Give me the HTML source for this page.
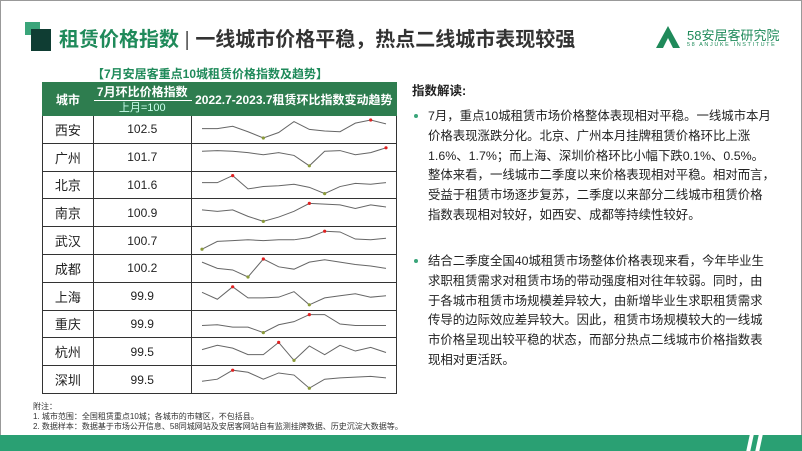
<!DOCTYPE html>
<html><head><meta charset="utf-8">
<style>
*{margin:0;padding:0;box-sizing:border-box}
body{width:802px;height:451px;overflow:hidden;background:#fff;font-family:"Liberation Sans","Noto Sans CJK SC",sans-serif;position:relative}
.abs{position:absolute}
table{border-collapse:collapse;position:absolute;left:42px;top:82px;width:355px}
td{border:1px solid #333;text-align:center;font-size:12px;color:#222;height:27.8px;padding:0}
.hd td{background:#2e7d4f;color:#fff;font-weight:bold;border-color:#2e7d4f;}
.txt{font-size:12.4px;line-height:19.8px;color:#222;left:428px;width:340px;white-space:nowrap}
.dot{position:absolute;left:-14px;top:7px;width:4px;height:4px;border-radius:50%;background:#3aa57a}
</style></head><body>
<div class="abs" style="left:0;top:0;width:802px;height:451px;border:1px solid #999"></div>
<div class="abs" style="left:25px;top:22px;width:15px;height:13px;background:#3aa57a"></div>
<div class="abs" style="left:31px;top:29px;width:20px;height:22px;background:#0f3d33"></div>
<div class="abs" style="left:59px;top:27px;font-size:20px;font-weight:bold;white-space:nowrap;line-height:26px"><span style="color:#1f8a5a">租赁价格指数</span><span style="color:#555;font-weight:normal"> | </span><span style="color:#333">一线城市价格平稳，热点二线城市表现较强</span></div>
<div class="abs" style="left:656px;top:24px;width:130px;height:26px">
<svg width="24" height="22" style="position:absolute;left:0;top:2px"><polygon points="12,0 24,22 17,22 12,12 7,22 0,22" fill="#1f8a5a"/></svg>
<div style="position:absolute;left:31px;top:1px;font-size:13px;color:#1f8a5a;white-space:nowrap">58安居客研究院</div>
<div style="position:absolute;left:31px;top:18px;font-size:5.5px;color:#1f8a5a;letter-spacing:1.6px;white-space:nowrap">58 ANJUKE INSTITUTE</div>
</div>
<div class="abs" style="left:92px;top:65px;font-size:12px;font-weight:bold;color:#1f8a5a;white-space:nowrap">【7月安居客重点10城租赁价格指数及趋势】</div>
<table>
<colgroup><col style="width:51px"><col style="width:98px"><col style="width:206px"></colgroup>
<tr class="hd"><td rowspan="2" style="height:33px">城市</td><td style="height:18px;border-bottom:1px solid #fff">7月环比价格指数</td><td rowspan="2">2022.7-2023.7租赁环比指数变动趋势</td></tr>
<tr class="hd"><td style="height:15px;font-weight:normal;color:#cfe;font-size:11px;line-height:14px">上月=100</td></tr>
<tbody id="rows"></tbody>
</table>
<svg id="spark" class="abs" style="left:0;top:0" width="802" height="451"></svg>
<div class="abs" style="left:412px;top:80px;font-size:12.5px;font-weight:bold;color:#222">指数解读:</div>
<div class="abs txt" style="top:107px"><span class="dot"></span>7月，重点10城租赁市场价格整体表现相对平稳。一线城市本月<br>价格表现涨跌分化。北京、广州本月挂牌租赁价格环比上涨<br>1.6%、1.7%；而上海、深圳价格环比小幅下跌0.1%、0.5%。<br>整体来看，一线城市二季度以来价格表现相对平稳。相对而言，<br>受益于租赁市场逐步复苏，二季度以来部分二线城市租赁价格<br>指数表现相对较好，如西安、成都等持续性较好。</div>
<div class="abs txt" style="top:252px"><span class="dot"></span>结合二季度全国40城租赁市场整体价格表现来看，今年毕业生<br>求职租赁需求对租赁市场的带动强度相对往年较弱。同时，由<br>于各城市租赁市场规模差异较大，由新增毕业生求职租赁需求<br>传导的边际效应差异较大。因此，租赁市场规模较大的一线城<br>市价格呈现出较平稳的状态，而部分热点二线城市价格指数表<br>现相对更活跃。</div>
<div class="abs" style="left:33px;top:402px;font-size:8px;line-height:10px;color:#333;white-space:nowrap">附注：<br>1. 城市范围：全国租赁重点10城；各城市的市辖区，不包括县。<br>2. 数据样本：数据基于市场公开信息、58同城网站及安居客网站自有监测挂牌数据、历史沉淀大数据等。</div>
<div class="abs" style="left:0;top:435px;width:802px;height:16px;background:#2aa073"></div>
<div class="abs" style="left:748px;top:435px;width:4px;height:16px;background:#fff;transform:skewX(-12deg)"></div>
<div class="abs" style="left:757px;top:435px;width:4px;height:16px;background:#fff;transform:skewX(-12deg)"></div>
<script>
const cities=["西安","广州","北京","南京","武汉","成都","上海","重庆","杭州","深圳"];
const julyIndex=["102.5","101.7","101.6","100.9","100.7","100.2","99.9","99.9","99.5","99.5"];
const s0=[100,100,100.3,99.6,98.8,99.5,100.9,99.9,99.7,99.6,100.7,101.1,100.6];
const s1=[100,100.1,100,99.8,99.5,99.8,99.4,97.9,100,100.1,99.5,99.8,100.5];
const s2=[100,100,100.9,99.2,99.5,99.6,99.8,99.4,98.6,99.5,99.9,99.8,100];
const s3=[100,99.8,100,99.1,98.4,99,99.8,100.9,100.8,100.7,100.2,100.7,100.4];
const s4=[100,101,101.1,101.2,101.1,101.2,101.2,101.5,102.3,102.2,101.3,101.2,101.4];
const s5=[100,99.2,99,98.1,100.4,99.4,99.1,100,100.3,100,99.7,99.5,99.2];
const s6=[100,99,100.8,99.2,99.2,99.3,100.1,98.2,99.2,99.5,99.8,99.3,99.5];
const s7=[100,100.1,99.8,99.8,99.1,100.1,100.5,101.4,101.4,100.2,100,100,100];
const s8=[100,100.6,100.2,99.3,99.3,101,98.5,100.5,99.3,100.6,99.8,100.3,99.6];
const s9=[100,100.3,101.6,101.3,100.3,101.2,100.9,99,100.3,100.5,100.6,100.7,100.5];
const series=[s0,s1,s2,s3,s4,s5,s6,s7,s8,s9];
const tb=document.getElementById('rows');
cities.forEach((c,i)=>{
 const tr=document.createElement('tr');
 
 
 tr.innerHTML='<td style="font-size:13px">'+c+'</td><td>'+julyIndex[i]+'</td><td></td>';
 tb.appendChild(tr);
});
const svg=document.getElementById('spark');
const NS='http://www.w3.org/2000/svg';
const top0=115, rowH=27.8, x0=202, x1=386;
const xs=j=>x0+(x1-x0)*j/12;
series.forEach((s,i)=>{
 const mn=Math.min(...s), mx=Math.max(...s);
 const ys=v=>top0+i*rowH+23-(v-mn)/(mx-mn||1)*18;
 const pl=document.createElementNS(NS,'polyline');
 
 
 pl.setAttribute('points',s.map((v,j)=>xs(j)+','+ys(v)).join(' '));
 pl.setAttribute('fill','none');pl.setAttribute('stroke','#666');pl.setAttribute('stroke-width','1');
 svg.appendChild(pl);
 const imx=s.indexOf(mx), imn=s.indexOf(mn);
 [[imx,'#e02020','max'],[imn,'#8a9a3a','min']].forEach(([k,col,nm])=>{
  const c=document.createElementNS(NS,'circle');
  
  
  c.setAttribute('cx',xs(k));c.setAttribute('cy',ys(s[k]));c.setAttribute('r','1.6');c.setAttribute('fill',col);
  svg.appendChild(c);
 });
});
</script>
</body></html>
